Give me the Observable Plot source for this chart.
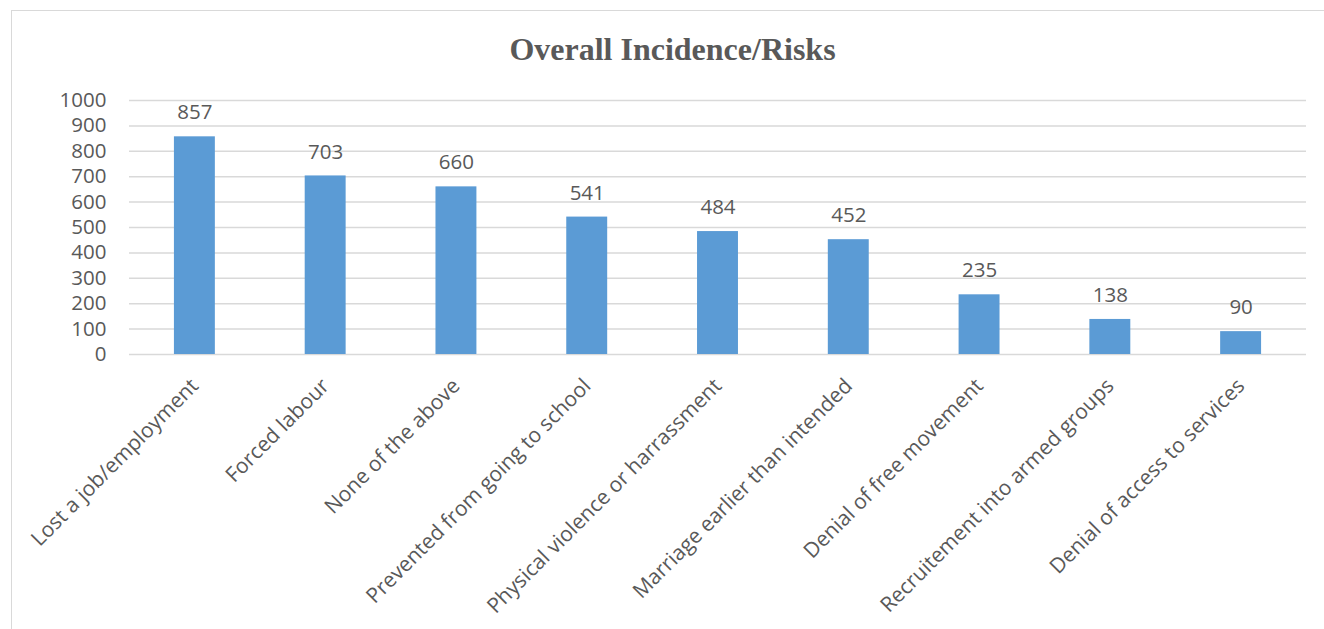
<!DOCTYPE html>
<html>
<head>
<meta charset="utf-8">
<script src="https://cdn.jsdelivr.net/npm/d3@7"></script>
<script src="https://cdn.jsdelivr.net/npm/@observablehq/plot@0.6"></script>
<style>
  html, body { margin: 0; padding: 0; background: #fff; }
  #frame {
    position: absolute; left: 11px; top: 10px; width: 1330px; height: 640px;
    border-left: 1.5px solid #d9d9d9; border-top: 1.5px solid #d9d9d9;
  }
  #title {
    position: absolute; left: 0; width: 1345px; top: 29px; text-align: center;
    font-family: "Liberation Serif", "Times New Roman", serif; font-weight: bold;
    font-size: 32px; color: #595959; line-height: 40px;
  }
  #chart { position: absolute; left: 0; top: 0; }
</style>
</head>
<body>
<div id="frame"></div>
<div id="title">Overall Incidence/Risks</div>
<div id="chart"></div>
<script>
// Reported incidence counts per risk category
const categories = [
  "Lost a job/employment",
  "Forced labour",
  "None of the above",
  "Prevented from going to school",
  "Physical violence or harrassment",
  "Marriage earlier than intended",
  "Denial of free movement",
  "Recruitement into armed groups",
  "Denial of access to services"
];
const counts = [857, 703, 660, 541, 484, 452, 235, 138, 90];
const yTicks = [0, 100, 200, 300, 400, 500, 600, 700, 800, 900, 1000];

const rows = categories.map((c, i) => ({category: c, count: counts[i]}));

const textColor = "#595959";
const font = "'Open Sans', 'Noto Sans', sans-serif";

const chart = Plot.plot({
  width: 1324,
  height: 629,
  marginLeft: 129,
  marginRight: 18,
  marginTop: 100,
  marginBottom: 275,
  style: {fontFamily: font, color: textColor, background: "transparent"},
  x: {domain: categories, paddingInner: 0.687, paddingOuter: 0.3435, round: false, label: null},
  y: {domain: [0, 1000], label: null},
  marks: [
    Plot.gridY(yTicks, {stroke: "#d9d9d9", strokeOpacity: 1, strokeWidth: 1.5}),
    Plot.barY(rows, {x: "category", y: "count", fill: "#5b9bd5"}),
    Plot.text(rows, {
      x: "category", y: "count", text: d => String(d.count),
      dy: -24, lineAnchor: "middle", fontSize: 20.5, fill: textColor
    }),
    Plot.axisY(yTicks, {
      tickSize: 0, tickPadding: 23, fontSize: 20.5, fill: textColor,
      tickFormat: d => String(d), label: null
    }),
    Plot.axisX({
      tickSize: 0, tickPadding: 28, tickRotate: -45, dx: 0,
      fontSize: 21, fill: textColor, label: null
    })
  ]
});
document.getElementById("chart").appendChild(chart);
</script>
</body>
</html>
